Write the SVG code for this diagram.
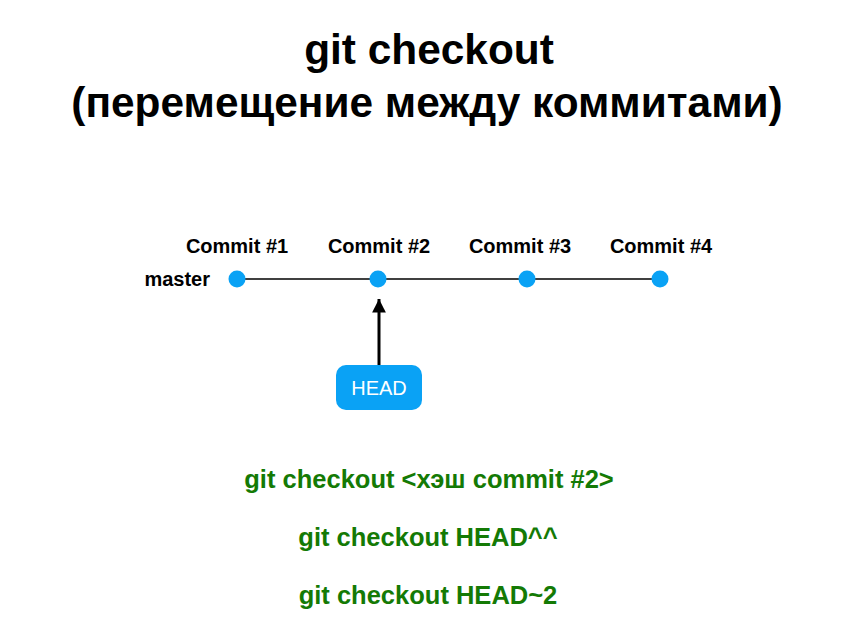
<svg xmlns="http://www.w3.org/2000/svg" width="860" height="643" viewBox="0 0 860 643">
<style>
text{font-family:"Liberation Sans",Arial,sans-serif;font-weight:bold}
.title{font-size:42.4px;fill:#000;text-anchor:middle}
.lbl{font-size:20px;fill:#000;text-anchor:middle}
.cmd{font-size:25.5px;fill:#147a05;text-anchor:middle}
.dot{fill:#0aa2f5}
</style>
<defs>
<marker id="ah" markerWidth="5" markerHeight="4.6" refX="4.5" refY="2.3" orient="auto" markerUnits="strokeWidth">
<path d="M0,0 L4.5,2.3 L0,4.6 z" fill="#000"/>
</marker>
</defs>
<rect width="860" height="643" fill="#fff"/>
<text class="title" x="429" y="64">git checkout</text>
<text class="title" x="427" y="117">(перемещение между коммитами)</text>
<g id="connectors">
<line x1="237" y1="279" x2="660" y2="279" stroke="#000" stroke-width="1.5"/>
<line x1="379" y1="365" x2="379" y2="299" stroke="#000" stroke-width="3" marker-end="url(#ah)"/>
</g>
<text class="lbl" x="210" y="286" style="text-anchor:end">master</text>
<g id="c1"><circle class="dot" cx="237" cy="279" r="8.5"/><text class="lbl" x="237" y="253">Commit #1</text></g>
<g id="c2"><circle class="dot" cx="378" cy="279" r="8.5"/><text class="lbl" x="379" y="253">Commit #2</text></g>
<g id="c3"><circle class="dot" cx="527" cy="279" r="8.5"/><text class="lbl" x="520" y="253">Commit #3</text></g>
<g id="c4"><circle class="dot" cx="660" cy="279" r="8.5"/><text class="lbl" x="661" y="253">Commit #4</text></g>
<g id="head">
<rect x="336" y="365" width="86" height="45" rx="10" fill="#0aa2f5"/>
<text x="379" y="395" font-size="20" fill="#fff" text-anchor="middle" style="font-weight:normal">HEAD</text>
</g>
<text class="cmd" x="429" y="488">git checkout &lt;хэш commit #2&gt;</text>
<text class="cmd" x="428" y="546">git checkout HEAD^^</text>
<text class="cmd" x="428" y="604">git checkout HEAD~2</text>
</svg>
